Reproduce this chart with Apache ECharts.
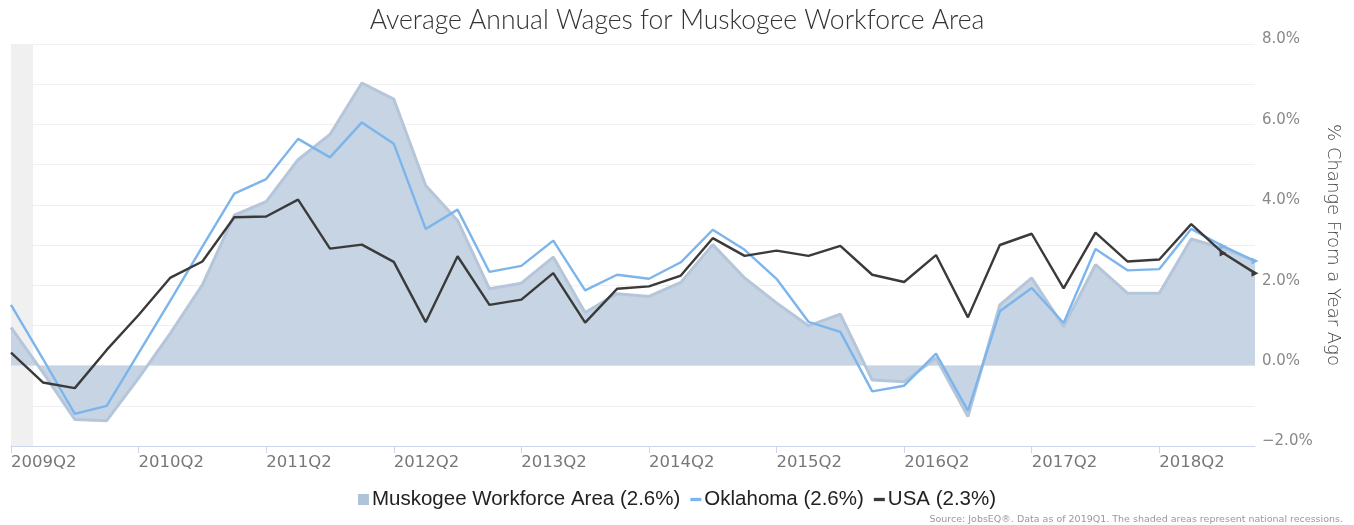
<!DOCTYPE html>
<html>
<head>
<meta charset="utf-8">
<script src="https://cdn.jsdelivr.net/npm/echarts@6/dist/echarts.min.js"></script>
<style>
  html, body { margin: 0; padding: 0; background: #fff; }
  #main { width: 1354px; height: 525px; }
</style>
</head>
<body>
<div id="main"></div>
<script>
// quarters on the x axis (2009Q2 .. 2019Q1)
const quarters = [
    '2009Q2', '2009Q3', '2009Q4', '2010Q1', '2010Q2', '2010Q3', '2010Q4', '2011Q1',
    '2011Q2', '2011Q3', '2011Q4', '2012Q1', '2012Q2', '2012Q3', '2012Q4', '2013Q1',
    '2013Q2', '2013Q3', '2013Q4', '2014Q1', '2014Q2', '2014Q3', '2014Q4', '2015Q1',
    '2015Q2', '2015Q3', '2015Q4', '2016Q1', '2016Q2', '2016Q3', '2016Q4', '2017Q1',
    '2017Q2', '2017Q3', '2017Q4', '2018Q1', '2018Q2', '2018Q3', '2018Q4', '2019Q1'
];

// % change from a year ago
const muskogee = [
    0.95, -0.17, -1.34, -1.37, -0.31, 0.81, 2.01, 3.74, 4.08, 5.12,
    5.75, 7.03, 6.63, 4.48, 3.61, 1.91, 2.05, 2.70, 1.32, 1.79,
    1.72, 2.07, 3.01, 2.18, 1.56, 0.99, 1.28, -0.36, -0.40, 0.19,
    -1.27, 1.51, 2.18, 0.97, 2.51, 1.80, 1.80, 3.15, 2.92, 2.60
];
const oklahoma = [
    1.51, 0.17, -1.20, -1.00, 0.31, 1.62, 2.96, 4.28, 4.64, 5.64,
    5.18, 6.05, 5.52, 3.40, 3.88, 2.33, 2.48, 3.11, 1.87, 2.26,
    2.16, 2.57, 3.38, 2.88, 2.16, 1.09, 0.84, -0.64, -0.50, 0.30,
    -1.12, 1.35, 1.93, 1.06, 2.90, 2.37, 2.40, 3.40, 2.97, 2.60
];
const usa = [
    0.32, -0.42, -0.56, 0.39, 1.26, 2.19, 2.59, 3.69, 3.71, 4.13,
    2.91, 3.01, 2.58, 1.08, 2.72, 1.51, 1.64, 2.30, 1.07, 1.91,
    1.97, 2.24, 3.17, 2.73, 2.86, 2.73, 2.98, 2.26, 2.08, 2.75,
    1.20, 3.00, 3.28, 1.92, 3.31, 2.59, 2.64, 3.52, 2.80, 2.30
];

const seriesNames = ['Muskogee Workforce Area (2.6%)', 'Oklahoma (2.6%)', 'USA (2.3%)'];

// national recession, in quarter index units
const recession = [0, 0.69];

const yTicks = [-2, 0, 2, 4, 6, 8];

const chart = echarts.init(document.getElementById('main'));

// last two points get small arrow heads
function withArrows(values) {
    return values.map((v, i) => {
        if (i >= values.length - 2) {
            return { value: v, symbol: 'triangle', symbolSize: 7, symbolRotate: -90 };
        }
        return v;
    });
}

const labelFont = 'DejaVu Sans';
const dashIcon = 'path://M0,0H8V2.4H0Z';

const option = {
    animation: false,
    backgroundColor: '#fff',
    title: [
        {
            text: 'Average Annual Wages for Muskogee Workforce Area',
            left: 'center',
            top: 2,
            textStyle: {
                fontFamily: 'Lato',
                fontWeight: 300,
                fontSize: 26.5,
                color: '#333'
            }
        },
        {
            text: 'Source: JobsEQ®. Data as of 2019Q1. The shaded areas represent national recessions.',
            right: 6,
            top: 510,
            textStyle: {
                fontFamily: labelFont,
                fontWeight: 'normal',
                fontSize: 9.5,
                color: '#999'
            }
        }
    ],
    grid: {
        left: 11,
        right: 99,
        top: 44,
        bottom: 79
    },
    legend: {
        bottom: 10,
        left: 'center',
        itemGap: 10,
        itemWidth: 11,
        itemHeight: 11,
        textStyle: {
            fontFamily: 'Liberation Sans',
            fontSize: 20.5,
            color: '#222',
            padding: [0, 0, 0, -2]
        },
        data: [
            { name: seriesNames[0], icon: 'rect', itemStyle: { color: '#b0c3da' } },
            { name: seriesNames[1], icon: dashIcon, itemStyle: { color: '#7cb5ec' } },
            { name: seriesNames[2], icon: dashIcon, itemStyle: { color: '#3a3a3a' } }
        ]
    },
    xAxis: [
        {
            type: 'category',
            data: quarters,
            boundaryGap: false,
            axisLine: { onZero: false, lineStyle: { color: '#ccd6eb' } },
            axisTick: {
                interval: 3,
                length: 7,
                lineStyle: { color: '#ccd6eb' }
            },
            axisLabel: {
                interval: 3,
                align: 'left',
                margin: 8,
                fontFamily: labelFont,
                fontSize: 16.5,
                color: '#777'
            },
            splitLine: { show: false }
        },
        {
            // hidden value axis, only used to place the recession band
            type: 'value',
            min: 0,
            max: quarters.length - 1,
            show: false
        }
    ],
    yAxis: {
        type: 'value',
        position: 'right',
        min: -2,
        max: 8,
        interval: 1,
        name: '% Change From a Year Ago',
        nameLocation: 'middle',
        nameRotate: -90,
        nameGap: 63,
        nameTextStyle: {
            fontFamily: labelFont,
            fontWeight: 300,
            fontSize: 18,
            color: '#444'
        },
        axisLine: { show: false },
        axisTick: { show: false },
        axisLabel: {
            margin: 7,
            verticalAlign: 'bottom',
            lineHeight: 9,
            fontFamily: labelFont,
            fontSize: 15,
            color: '#888',
            formatter: v => yTicks.includes(v) ? (v < 0 ? '\u2212' + Math.abs(v).toFixed(1) : v.toFixed(1)) + '%' : ''
        },
        splitLine: { lineStyle: { color: '#f0f0f0', width: 1 } }
    },
    series: [
        {
            name: 'recession',
            type: 'line',
            xAxisIndex: 1,
            data: [],
            z: 1,
            silent: true,
            markArea: {
                silent: true,
                itemStyle: { color: '#f0f0f0' },
                data: [[{ xAxis: recession[0] }, { xAxis: recession[1] }]]
            }
        },
        {
            name: seriesNames[0],
            type: 'line',
            data: muskogee,
            z: 2,
            symbol: 'none',
            lineStyle: { color: '#b5c6da', width: 3 },
            itemStyle: { color: '#b5c6da' },
            areaStyle: { color: '#c6d4e3', opacity: 1 }
        },
        {
            name: seriesNames[1],
            type: 'line',
            data: withArrows(oklahoma),
            z: 3,
            symbol: 'none',
            showSymbol: true,
            lineStyle: { color: '#7cb5ec', width: 2.4 },
            itemStyle: { color: '#7cb5ec' }
        },
        {
            name: seriesNames[2],
            type: 'line',
            data: withArrows(usa),
            z: 4,
            symbol: 'none',
            showSymbol: true,
            lineStyle: { color: '#3a3a3a', width: 2.4 },
            itemStyle: { color: '#3a3a3a' }
        }
    ]
};

chart.setOption(option);
</script>
</body>
</html>
